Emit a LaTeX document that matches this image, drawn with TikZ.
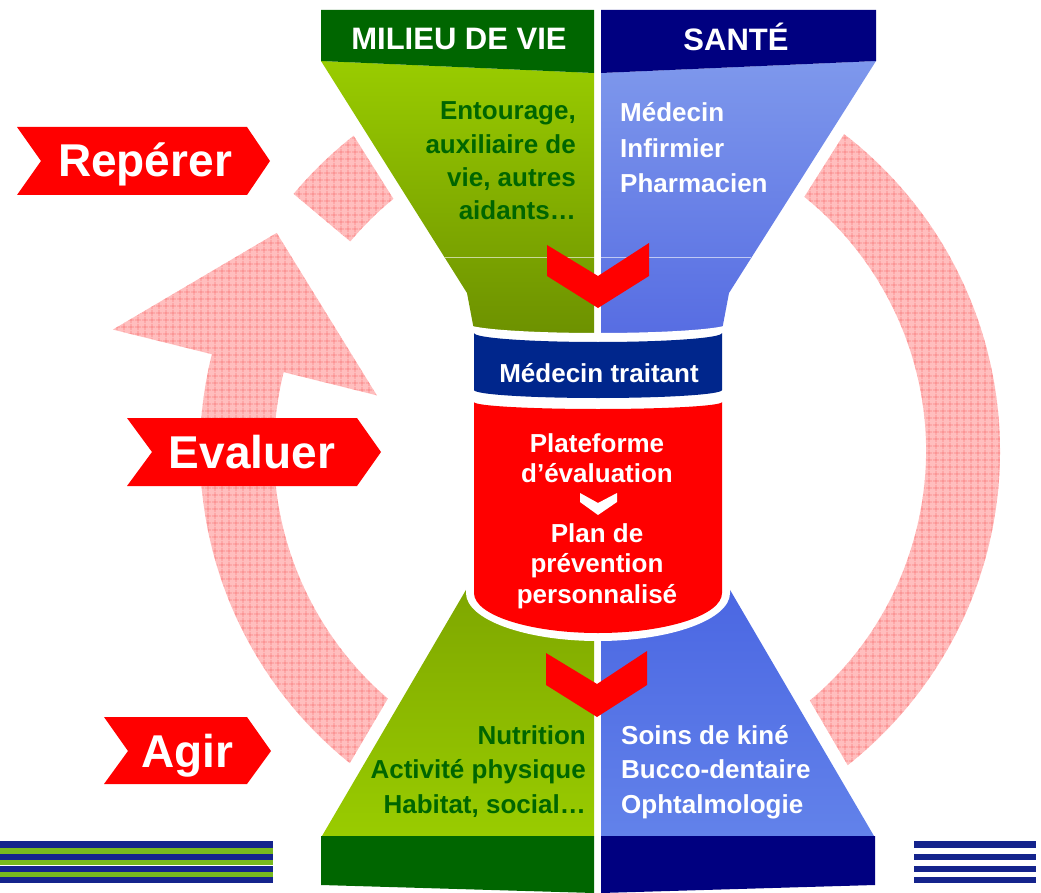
\documentclass[tikz,border=0pt]{standalone}
\usepackage{fontspec}
\setmainfont{Liberation Sans}
\usetikzlibrary{calc,patterns.meta}

\definecolor{vieDark}{RGB}{0,102,0}
\definecolor{vieTop}{RGB}{153,204,0}
\definecolor{vieLow}{RGB}{108,144,0}
\definecolor{vieMid}{RGB}{126,166,0}
\definecolor{santeDark}{RGB}{0,0,128}
\definecolor{santeTop}{RGB}{126,152,236}
\definecolor{santeLow}{RGB}{86,108,226}
\definecolor{santeMid}{RGB}{74,102,226}
\definecolor{santeBas}{RGB}{98,130,234}
\definecolor{traitant}{RGB}{0,38,140}
\definecolor{ringPink}{RGB}{255,190,190}
\definecolor{ringLine}{RGB}{250,128,128}
\definecolor{stripeBlue}{RGB}{20,35,140}
\definecolor{stripeGreen}{RGB}{120,185,30}

\tikzset{
  banner/.style={fill=red},
  bannertext/.style={text=white,font=\fontsize{46}{50}\selectfont\bfseries,anchor=base,inner sep=0pt},
  headtext/.style={text=white,font=\fontsize{31}{34}\selectfont\bfseries,anchor=base,inner sep=0pt},
  vietext/.style={text=vieDark,font=\fontsize{26}{30}\selectfont\bfseries,anchor=base east,inner sep=0pt},
  santetext/.style={text=white,font=\fontsize{26}{30}\selectfont\bfseries,anchor=base west,inner sep=0pt},
  cantext/.style={text=white,font=\fontsize{26}{30}\selectfont\bfseries,anchor=base,inner sep=0pt},
  ringband/.style={preaction={fill=ringPink},pattern={Hatch[angle=0,distance=6.5pt,line width=0.6pt]},pattern color=ringLine},
  whitegap/.style={draw=white,fill=white,line width=24pt},
}

\begin{document}
\begin{tikzpicture}[x=1pt,y=-1pt]
	%%%%% START %%%%%
	\useasboundingbox (0,0) rectangle (1041,893);
	\coordinate (ringc) at (600,451);
	
	% circular arrow behind everything
	\path[ringband] ($(ringc)+(220:400)$) arc[start angle=220,end angle=554,radius=400]
		-- ($(ringc)+(554:502)$) -- ($(ringc)+(574:390)$) -- ($(ringc)+(554:230)$)
		-- ($(ringc)+(554:326)$) arc[start angle=554,end angle=220,radius=326] -- cycle;
	
	% white margins round the funnels
	\draw[whitegap] (321,10) -- (876,10) -- (876,61) -- (729,293) -- (729,330) -- (467,330) -- (467,293) -- (321,61) -- cycle;
	\draw[whitegap] (467,588) -- (730,588) -- (875,836) -- (875,893) -- (321,893) -- (321,836) -- cycle;
	
	% top funnels
	\path[top color=vieTop,bottom color=vieLow] (321,61) -- (594,73) -- (594,340) -- (474,330) -- (467,293) -- cycle;
	\path[top color=santeTop,bottom color=santeLow] (601,73) -- (876,61) -- (729,293) -- (722,330) -- (601,340) -- cycle;
	\fill[vieDark] (321,10) -- (594,10) -- (594,73) -- (321,61) -- cycle;
	\fill[santeDark] (601,10) -- (876,10) -- (876,61) -- (601,73) -- cycle;
	\draw[white,opacity=0.6,line width=1pt] (445,258) -- (751,258);
	
	% bottom funnels
	\path[top color=vieMid,bottom color=vieTop] (470,583) -- (594,583) -- (594,836) -- (322,836) -- cycle;
	\path[top color=santeMid,bottom color=santeBas] (601,583) -- (726,583) -- (874,836) -- (601,836) -- cycle;
	\fill[vieDark] (321,836) -- (594,836) -- (594,893) -- (321,885) -- cycle;
	\fill[santeDark] (601,836) -- (875,836) -- (875,885) -- (601,893) -- cycle;
	
	% chevrons
	\fill[red] (547,245) -- (598,276) -- (649,243) -- (649,276) -- (598,308) -- (547,276) -- cycle;
	\fill[red] (546,653) -- (597,684) -- (647,651) -- (647,685) -- (597,717) -- (546,685) -- cycle;
	
	% the can in the middle
	\fill[white] (466,323) arc[start angle=180,end angle=0,x radius=132,y radius=10]
		-- (730,593) arc[start angle=0,end angle=180,x radius=132,y radius=48] -- cycle;
	\fill[traitant] (474,333) arc[start angle=180,end angle=0,x radius=124,y radius=9]
		-- (722,390) arc[start angle=0,end angle=180,x radius=124,y radius=8] -- cycle;
	\fill[red] (474,402) arc[start angle=180,end angle=0,x radius=124,y radius=7]
		-- (722,593) arc[start angle=0,end angle=180,x radius=124,y radius=40] -- cycle;
	\fill[white] (580,493) -- (598,503) -- (617,493) -- (617,502) -- (598,515) -- (580,502) -- cycle;
	
	% banners
	\fill[banner] (17,127) -- (247,127) -- (270,161) -- (247,195) -- (17,195) -- (41,161) -- cycle;
	\fill[banner] (127,418) -- (357,418) -- (381,452) -- (357,486) -- (127,486) -- (152,452) -- cycle;
	\fill[banner] (104,717) -- (247,717) -- (271,751) -- (247,784) -- (104,784) -- (128,751) -- cycle;
	\node[bannertext] (reperer) at (145,177) {Repérer};
	\node[bannertext] (evaluer) at (252,468) {Evaluer};
	\node[bannertext] (agir) at (187,767) {Agir};
	
	% texts
	\node[headtext] (milieu) at (459,50) {MILIEU DE VIE};
	\node[headtext] (sante) at (736,51) {SANTÉ};
	
	\foreach \ligne [count=\i] in {{Entourage,},{auxiliaire de},{vie, autres},{aidants…}}
		\node[vietext] (entourage\i) at (576,{120+33.3*(\i-1)}) {\ligne};
	\foreach \ligne [count=\i] in {Médecin,Infirmier,Pharmacien}
		\node[santetext] (pro\i) at (620,{122+35.5*(\i-1)}) {\ligne};
	\foreach \ligne [count=\i] in {Nutrition,{Activité physique},{Habitat, social…}}
		\node[vietext] (action\i) at (586,{744+34.5*(\i-1)}) {\ligne};
	\foreach \ligne [count=\i] in {{Soins de kiné},Bucco-dentaire,Ophtalmologie}
		\node[santetext] (soin\i) at (621,{744+34.5*(\i-1)}) {\ligne};
	
	\node[cantext] (traitantTxt) at (599,382) {Médecin traitant};
	\node[cantext] (plateforme) at (597,452) {Plateforme};
	\node[cantext] (evaluation) at (597,482) {d’évaluation};
	\node[cantext] (plan) at (597,542) {Plan de};
	\node[cantext] (prevention) at (597,572) {prévention};
	\node[cantext] (perso) at (597,603) {personnalisé};
	
	% stripes at the foot
	\foreach \ya/\yb in {841/848,854/860,866/872,877/883} {
		\fill[stripeBlue] (0,\ya) rectangle (273,\yb);
		\fill[stripeBlue] (914,\ya) rectangle (1036,\yb);
	}
	\foreach \ya/\yb in {848/854,860/864.5,872/877}
		\fill[stripeGreen] (0,\ya) rectangle (273,\yb);
	
	%%%%% END %%%%%
\end{tikzpicture}
\end{document}
